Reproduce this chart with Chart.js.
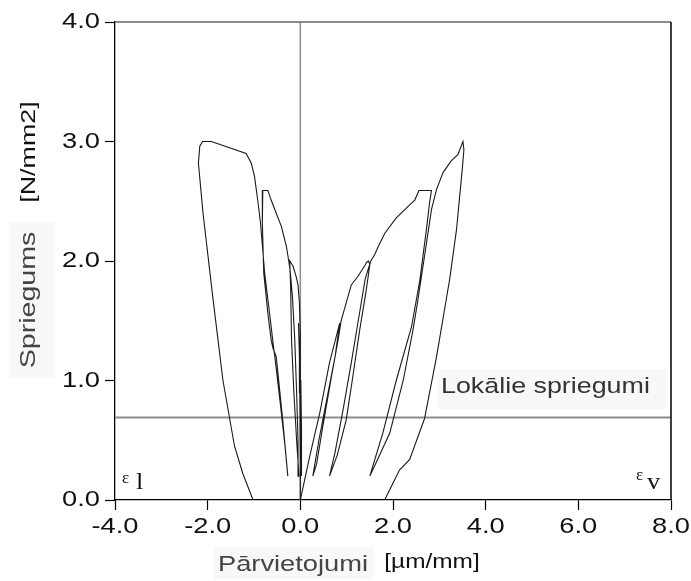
<!DOCTYPE html>
<html>
<head>
<meta charset="utf-8">
<script src="https://cdn.jsdelivr.net/npm/chart.js@4.4.1/dist/chart.umd.min.js"></script>
<style>
  html, body { margin: 0; padding: 0; background: #fff; }
  #wrap { width: 691px; height: 581px; }
</style>
</head>
<body>
<div id="wrap"><canvas id="grafiks" width="691" height="581"></canvas></div>
<script>
// Ass (axis) ticks
const X_TICKS = [-4, -2, 0, 2, 4, 6, 8];
const Y_TICKS = [0, 1, 2, 3, 4];

// Local stress level (horizontal line) and the zero line
const LOKALIE_Y = 0.69;

// Lateral strain (eps l) path
const lateralX = [0, 0.0, -0.01, -0.02, -0.04,
    -0.02, 0.0, 0.02, 0.03,
    0.02, 0.01, 0.0, -0.02, -0.05, -0.09, -0.16, -0.23,
    -0.21, -0.19, -0.14, -0.08, -0.03,
    -0.05, -0.08, -0.12, -0.17, -0.22, -0.25, -0.30, -0.41, -0.52, -0.63, -0.70, -0.81,
    -0.82, -0.79, -0.70, -0.63, -0.59, -0.52, -0.38, -0.27,
    -0.33, -0.43, -0.52, -0.60, -0.66, -0.77, -0.86, -0.92, -0.99, -1.06, -1.17, -1.92, -2.11, -2.17, -2.20,
    -2.10, -1.89, -1.67, -1.42, -1.24, -1.02];
const lateralY = [0, 0.4, 0.9, 1.3, 1.48,
    1.2, 0.7, 0.4, 0.2,
    0.6, 1.0, 1.4, 1.65, 1.8, 1.87, 1.96, 2.0,
    1.8, 1.34, 0.9, 0.5, 0.2,
    0.5, 0.9, 1.34, 1.7, 1.92, 2.0, 2.12, 2.29, 2.40, 2.51, 2.59, 2.59,
    2.32, 1.90, 1.56, 1.34, 1.27, 1.2, 0.67, 0.2,
    0.45, 0.8, 1.1, 1.35, 1.55, 1.90, 2.32, 2.51, 2.71, 2.82, 2.90, 3.0, 3.0, 2.96, 2.82,
    2.40, 1.70, 1.0, 0.45, 0.22, 0];

// Vertical strain (eps v) path
const verticalX = [0, 0.1, 0.2, 0.42, 0.63, 0.85,
    0.75, 0.55, 0.4, 0.27,
    0.35, 0.5, 0.68, 0.82, 0.88, 0.99, 1.10, 1.14, 1.24, 1.39, 1.43, 1.47, 1.50,
    1.42, 1.28, 1.12, 0.99, 0.80, 0.63,
    0.75, 0.92, 1.10, 1.25, 1.40, 1.52, 1.60, 1.68, 1.82, 2.07, 2.36, 2.47, 2.56, 2.83,
    2.79, 2.72, 2.58, 2.40, 2.07, 1.78, 1.60, 1.50,
    1.62, 1.93, 2.22, 2.43, 2.54, 2.68, 2.83, 2.94, 3.08, 3.26, 3.40, 3.51,
    3.53, 3.50, 3.37, 3.22, 3.15, 2.94, 2.68, 2.36, 2.14, 1.82];
const verticalY = [0, 0.18, 0.36, 0.73, 1.15, 1.48,
    1.2, 0.8, 0.5, 0.2,
    0.3, 0.65, 1.05, 1.35, 1.5, 1.65, 1.80, 1.82, 1.87, 1.96, 1.99, 2.0, 1.97,
    1.75, 1.42, 1.0, 0.67, 0.38, 0.2,
    0.4, 0.75, 1.15, 1.5, 1.85, 2.0, 2.05, 2.12, 2.23, 2.36, 2.47, 2.51, 2.59, 2.59,
    2.49, 2.26, 1.84, 1.45, 1.0, 0.56, 0.33, 0.2,
    0.3, 0.56, 1.0, 1.42, 1.68, 2.04, 2.43, 2.60, 2.74, 2.84, 2.89, 3.0,
    2.93, 2.79, 2.26, 1.84, 1.68, 1.2, 0.68, 0.34, 0.25, 0];

function punkti(xs, ys) {
    let res = [];
    for (let i = 0; i < xs.length; i++) res.push({ x: xs[i], y: ys[i] });
    return res;
}

// Wide text (the original font is broader than Arial)
function teksts(ctx, s, x, y, size, align, color, opts) {
    opts = opts || {};
    ctx.save();
    ctx.translate(x, y);
    if (opts.rot) ctx.rotate(opts.rot);
    ctx.scale(opts.stretch || 1.24, 1);
    ctx.font = size + 'px ' + (opts.family || '"Liberation Sans", Arial, sans-serif');
    ctx.textAlign = align;
    ctx.textBaseline = opts.baseline || 'middle';
    ctx.fillStyle = color;
    ctx.fillText(s, 0, 0);
    ctx.restore();
}

const uzraksti = {
    id: 'uzraksti',
    beforeDraw(chart) {
        // faint pasted label backgrounds
        let ctx = chart.ctx;
        ctx.save();
        ctx.fillStyle = '#f8f8f8';
        ctx.fillRect(10, 222, 44, 156);
        ctx.fillRect(214, 547, 160, 32);
        ctx.fillRect(438, 369, 228, 40);
        ctx.restore();
    },
    afterDraw(chart) {
        let ctx = chart.ctx;
        let xs = chart.scales.x, ys = chart.scales.y;
        let a = chart.chartArea;

        // frame: top and right
        ctx.save();
        ctx.strokeStyle = '#666';
        ctx.lineWidth = 1.5;
        ctx.beginPath(); ctx.moveTo(a.left, a.top); ctx.lineTo(a.right, a.top); ctx.stroke();
        ctx.strokeStyle = '#000';
        ctx.beginPath(); ctx.moveTo(a.right, a.top); ctx.lineTo(a.right, a.bottom); ctx.stroke();
        ctx.restore();

        // tick labels
        Y_TICKS.forEach(v => teksts(ctx, v.toFixed(1), 100, ys.getPixelForValue(v), 22, 'right', '#111'));
        X_TICKS.forEach(v => teksts(ctx, v.toFixed(1), xs.getPixelForValue(v), 527, 22, 'center', '#111'));

        // axis titles
        teksts(ctx, 'Spriegums', 29, 300, 22, 'center', '#444', { rot: -Math.PI / 2, stretch: 1.3 });
        teksts(ctx, '[N/mm2]', 29, 152, 21, 'center', '#111', { rot: -Math.PI / 2, stretch: 1.28 });
        teksts(ctx, 'Pārvietojumi', 293, 565, 22, 'center', '#444');
        teksts(ctx, '[µm/mm]', 432, 562, 20, 'center', '#111', { stretch: 1.22 });

        // annotations
        teksts(ctx, 'Lokālie spriegumi', 441, ys.getPixelForValue(LOKALIE_Y) - 31, 22, 'left', '#333', { stretch: 1.22 });
        let serif = '"Liberation Serif", "Times New Roman", serif';
        teksts(ctx, 'ε', 122, 479, 17, 'left', '#111', { family: serif, stretch: 1 });
        teksts(ctx, 'l', 136, 483, 24, 'left', '#111', { family: serif, stretch: 1.1 });
        teksts(ctx, 'ε', 636, 476, 17, 'left', '#111', { family: serif, stretch: 1 });
        teksts(ctx, 'v', 647, 483, 24, 'left', '#111', { family: serif, stretch: 1.1 });
    }
};

let lineStyle = { borderColor: '#1a1a1a', borderWidth: 1.1, pointRadius: 0, showLine: true, tension: 0, fill: false };

new Chart(document.getElementById('grafiks'), {
    type: 'scatter',
    data: {
        datasets: [
            Object.assign({ data: punkti(lateralX, lateralY), order: 1 }, lineStyle),
            Object.assign({ data: punkti(verticalX, verticalY), order: 1 }, lineStyle),
            { data: punkti([X_TICKS[0], X_TICKS[X_TICKS.length - 1]], [LOKALIE_Y, LOKALIE_Y]), borderColor: '#8c8c8c', borderWidth: 2,
              pointRadius: 0, showLine: true, order: 2 },
            { data: punkti([0, 0], [Y_TICKS[0], Y_TICKS[Y_TICKS.length - 1]]), borderColor: '#8c8c8c', borderWidth: 1.5,
              pointRadius: 0, showLine: true, order: 2 }
        ]
    },
    options: {
        responsive: false,
        animation: false,
        layout: { padding: { top: 22, right: 20, left: 0, bottom: 0 } },
        plugins: { legend: { display: false }, tooltip: { enabled: false } },
        scales: {
            x: {
                type: 'linear', min: -4, max: 8,
                ticks: { stepSize: 2, color: 'rgba(0,0,0,0)', font: { size: 20 } },
                grid: { drawOnChartArea: false, drawTicks: true, tickLength: 10, tickColor: '#000', tickWidth: 1.2 },
                border: { color: '#000', width: 1.3 },
                afterFit(s) { s.height = 81; }
            },
            y: {
                type: 'linear', min: 0, max: 4,
                ticks: { stepSize: 1, color: 'rgba(0,0,0,0)', font: { size: 20 } },
                grid: { drawOnChartArea: false, drawTicks: true, tickLength: 10, tickColor: '#000', tickWidth: 1.2 },
                border: { color: '#000', width: 1.3 },
                afterFit(s) { s.width = 115; }
            }
        }
    },
    plugins: [uzraksti]
});
</script>
</body>
</html>
